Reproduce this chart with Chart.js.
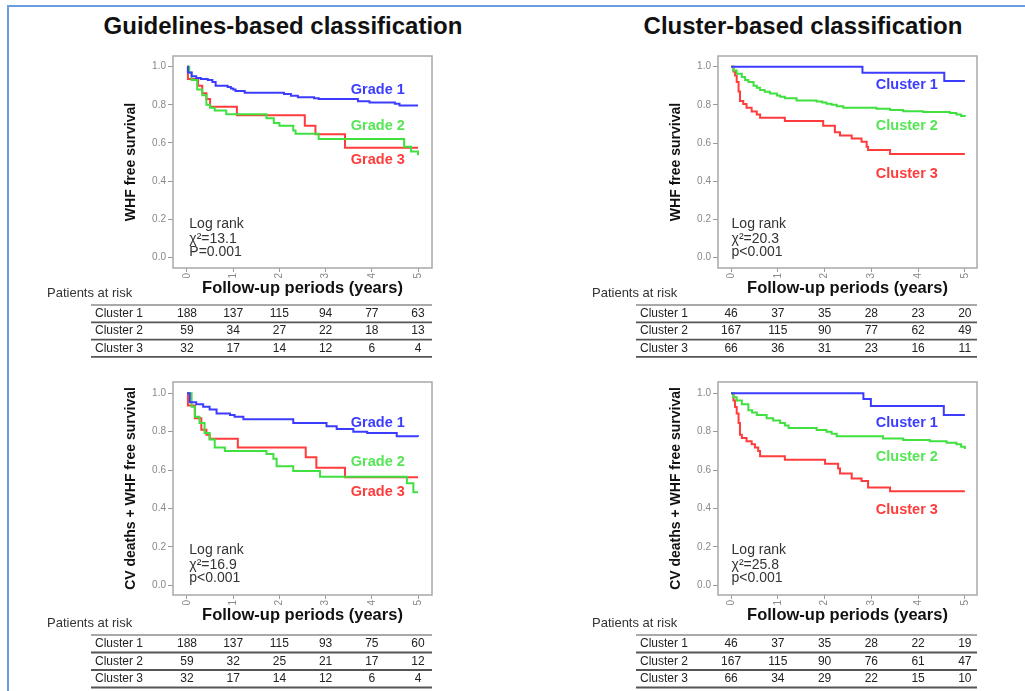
<!DOCTYPE html>
<html>
<head>
<meta charset="utf-8">
<script src="https://cdn.jsdelivr.net/npm/chart.js@4.4.1/dist/chart.umd.min.js"></script>
<style>
  body { margin: 0; background: #fff; font-family: Arial, "Liberation Sans", sans-serif; }
  #frame { position: absolute; left: 7px; top: 5px; width: 1040px; height: 720px; border: 2px solid #6b9be0; }
  .title { position: absolute; top: 13px; line-height: 26px; font-weight: bold; font-size: 24px; color: #111;
           transform: translateX(-50%); white-space: nowrap; }
  canvas { position: absolute; }
</style>
</head>
<body>
<div id="frame"></div>
<div class="title" style="left:283px">Guidelines-based classification</div>
<div class="title" style="left:803px">Cluster-based classification</div>
<canvas id="tl" width="394" height="312" style="left:40px;top:48px"></canvas>
<canvas id="tr" width="391" height="312" style="left:588px;top:48px"></canvas>
<canvas id="bl" width="394" height="317" style="left:40px;top:374px"></canvas>
<canvas id="br" width="391" height="317" style="left:588px;top:374px"></canvas>
<script>
const FONT = 'Arial, "Liberation Sans", sans-serif';
const YEARS = [0, 1, 2, 3, 4, 5];
const Y_TICKS = [0, 0.2, 0.4, 0.6, 0.8, 1.0];
const GRADES = ['Grade 1', 'Grade 2', 'Grade 3'];
const CLUSTERS = ['Cluster 1', 'Cluster 2', 'Cluster 3'];
const ROW_NAMES = ['Cluster 1', 'Cluster 2', 'Cluster 3'];
const COLORS = ['#3c3cff', '#3fe03f', '#ff3c3c'];
const LABEL_COLORS = ['#3c3cff', '#55e655', '#ff3c3c'];

// Kaplan-Meier curves, [years, survival]
const TL_G1 = [[0,1],[0.02,0.97],[0.1,0.95],[0.2,0.94],[0.3,0.935],[0.45,0.93],[0.55,0.92],[0.62,0.9],[0.88,0.893],[0.95,0.885],[1.0,0.88],[1.05,0.873],[1.25,0.863],[2.1,0.857],[2.25,0.848],[2.4,0.84],[2.75,0.835],[2.85,0.83],[3.7,0.818],[3.95,0.812],[4.5,0.805],[4.6,0.797],[5,0.797]];
const TL_G2 = [[0,1],[0.05,0.97],[0.1,0.93],[0.22,0.88],[0.33,0.85],[0.42,0.8],[0.5,0.785],[0.6,0.77],[0.85,0.75],[1.72,0.73],[1.88,0.705],[2.0,0.69],[2.3,0.665],[2.35,0.648],[2.85,0.62],[4.7,0.58],[4.85,0.555],[5,0.535]];
const TL_G3 = [[0,1],[0.02,0.935],[0.24,0.9],[0.33,0.86],[0.42,0.83],[0.5,0.79],[1.08,0.745],[2.55,0.69],[2.78,0.645],[3.42,0.575],[5,0.575]];

const TR_C1 = [[0,1],[2.81,0.968],[4.56,0.925],[5,0.925]];
const TR_C2 = [[0,1],[0.05,0.98],[0.12,0.963],[0.23,0.946],[0.3,0.93],[0.37,0.92],[0.48,0.9],[0.55,0.89],[0.62,0.878],[0.72,0.868],[0.83,0.86],[0.98,0.849],[1.05,0.842],[1.15,0.835],[1.4,0.823],[1.83,0.818],[1.95,0.812],[2.04,0.806],[2.15,0.8],[2.26,0.793],[2.4,0.785],[3.11,0.78],[3.4,0.773],[3.68,0.767],[4.11,0.762],[4.68,0.757],[4.82,0.749],[4.92,0.742],[5,0.737]];
const TR_C3 = [[0,1],[0.05,0.975],[0.085,0.954],[0.12,0.92],[0.16,0.87],[0.19,0.82],[0.26,0.805],[0.33,0.785],[0.44,0.765],[0.55,0.75],[0.62,0.733],[1.15,0.715],[1.97,0.69],[2.22,0.657],[2.33,0.64],[2.58,0.623],[2.79,0.606],[2.9,0.58],[2.93,0.564],[3.4,0.542],[5,0.542]];

const BL_G1 = [[0,1],[0.06,0.954],[0.2,0.943],[0.35,0.93],[0.49,0.916],[0.64,0.895],[0.93,0.887],[1.03,0.878],[1.22,0.865],[2.3,0.845],[3.02,0.828],[3.24,0.814],[3.6,0.8],[3.9,0.794],[4.54,0.777],[5,0.774]];
const BL_G2 = [[0,1],[0.1,0.93],[0.17,0.878],[0.27,0.845],[0.38,0.794],[0.49,0.76],[0.6,0.718],[0.82,0.7],[1.72,0.684],[1.87,0.66],[1.94,0.62],[2.3,0.595],[2.88,0.566],[4.76,0.532],[4.9,0.485],[5,0.485]];
const BL_G3 = [[0,1],[0.02,0.937],[0.17,0.87],[0.31,0.81],[0.42,0.785],[0.49,0.764],[1.1,0.718],[2.57,0.667],[2.8,0.612],[3.42,0.563],[5,0.563]];

const BR_C1 = [[0,1],[2.83,0.971],[2.99,0.934],[4.55,0.887],[5,0.887]];
const BR_C2 = [[0,1],[0.05,0.98],[0.12,0.963],[0.23,0.943],[0.37,0.912],[0.45,0.9],[0.55,0.887],[0.76,0.87],[0.9,0.858],[1.05,0.845],[1.15,0.832],[1.23,0.82],[1.83,0.809],[2.04,0.8],[2.15,0.79],[2.26,0.777],[3.25,0.765],[3.68,0.757],[4.25,0.75],[4.61,0.743],[4.82,0.735],[4.92,0.722],[5,0.71]];
const BR_C3 = [[0,1],[0.05,0.963],[0.085,0.929],[0.12,0.895],[0.16,0.845],[0.19,0.785],[0.23,0.768],[0.33,0.75],[0.44,0.735],[0.51,0.718],[0.58,0.7],[0.62,0.672],[1.15,0.654],[2.01,0.633],[2.29,0.608],[2.33,0.583],[2.58,0.557],[2.79,0.544],[2.93,0.51],[3.4,0.49],[5,0.49]];

// patients at risk at 0..5 years
const RISK_TL = [[188,137,115,94,77,63],[59,34,27,22,18,13],[32,17,14,12,6,4]];
const RISK_TR = [[46,37,35,28,23,20],[167,115,90,77,62,49],[66,36,31,23,16,11]];
const RISK_BL = [[188,137,115,93,75,60],[59,32,25,21,17,12],[32,17,14,12,6,4]];
const RISK_BR = [[46,37,35,28,22,19],[167,115,90,76,61,47],[66,34,29,22,15,10]];

const CHI = ['13.1', '20.3', '16.9', '25.8'];
const PVAL = ['P=0.001', 'p<0.001', 'p<0.001', 'p<0.001'];

function extras(p) {
  return {
    id: 'extras',
    afterDraw(chart) {
      const { ctx, chartArea: a, scales: { x, y } } = chart;
      ctx.save();
      ctx.strokeStyle = '#a8a8a8';
      ctx.lineWidth = 1.5;
      ctx.strokeRect(a.left, a.top, a.width, a.height);

      ctx.font = 'bold 14.5px ' + FONT;
      ctx.textAlign = 'center';
      ctx.textBaseline = 'middle';
      p.names.forEach((n, i) => {
        ctx.fillStyle = LABEL_COLORS[i];
        ctx.fillText(n, x.getPixelForValue(p.labelX), y.getPixelForValue(p.labelY[i]));
      });

      ctx.font = '14px ' + FONT;
      ctx.fillStyle = '#333';
      ctx.textAlign = 'left';
      ['Log rank', '\u03c7\u00b2=' + CHI[p.k], PVAL[p.k]].forEach((t, i) => {
        ctx.fillText(t, x.getPixelForValue(p.statX), y.getPixelForValue(p.statY[i]));
      });

      // risk table
      const t0 = a.bottom + p.tableTop;
      ctx.font = '13px ' + FONT;
      ctx.fillStyle = '#333';
      ctx.fillText('Patients at risk', a.left - 126, t0 - 12);
      ctx.strokeStyle = '#555';
      for (let r = 0; r <= 3; r++) {
        const yy = t0 + r * p.rowH;
        ctx.lineWidth = r === 0 ? 1.2 : 1.8;
        ctx.beginPath();
        ctx.moveTo(a.left - 82, yy);
        ctx.lineTo(a.right, yy);
        ctx.stroke();
      }
      ctx.fillStyle = '#222';
      ctx.font = '12px ' + FONT;
      ROW_NAMES.forEach((n, r) => {
        const yy = t0 + (r + 0.5) * p.rowH;
        ctx.textAlign = 'left';
        ctx.fillText(n, a.left - 78, yy);
        ctx.textAlign = 'center';
        p.risk[r].forEach((v, c) => ctx.fillText(String(v), x.getPixelForValue(YEARS[c]), yy));
      });
      ctx.restore();
    }
  };
}

function panel(id, p) {
  new Chart(document.getElementById(id), {
    type: 'line',
    data: {
      datasets: p.curves.map((c, i) => ({
        data: c.map(([t, s]) => ({ x: t, y: s })),
        borderColor: COLORS[i],
        borderWidth: 2,
        pointRadius: 0,
        stepped: true,
        fill: false
      }))
    },
    options: {
      responsive: false,
      animation: false,
      events: [],
      layout: { padding: { left: p.padLeft, top: 2, right: 2, bottom: p.padBottom } },
      plugins: { legend: { display: false }, tooltip: { enabled: false } },
      scales: {
        x: {
          type: 'linear',
          min: p.xMin, max: p.xMax,
          afterBuildTicks: s => { s.ticks = YEARS.map(v => ({ value: v })); },
          afterFit: s => { s.height = 32; },
          grid: { drawOnChartArea: false, tickLength: 4, color: '#999' },
          border: { display: false },
          ticks: { font: { size: 10, family: FONT }, color: '#888', padding: 1, minRotation: 90, maxRotation: 90,
                   callback: v => String(v) },
          title: { display: true, text: 'Follow-up periods (years)', color: '#111',
                   font: { size: 16.5, weight: 'bold', family: FONT }, padding: { top: 0, bottom: 2 } }
        },
        y: {
          min: p.yMin, max: p.yMax,
          afterBuildTicks: s => { s.ticks = Y_TICKS.map(v => ({ value: v })); },
          afterFit: s => { s.width = 54; },
          grid: { drawOnChartArea: false, tickLength: 5, color: '#999' },
          border: { display: false },
          ticks: { font: { size: 10, family: FONT }, color: '#888', padding: 2, callback: v => v.toFixed(1) },
          title: { display: true, text: p.yTitle, color: '#111',
                   font: { size: 14, weight: 'bold', family: FONT }, padding: { top: 4, bottom: 0 } }
        }
      }
    },
    plugins: [extras(p)]
  });
}

panel('tl', {
  k: 0, curves: [TL_G1, TL_G2, TL_G3], names: GRADES, risk: RISK_TL,
  yTitle: 'WHF free survival', padLeft: 79, padBottom: 60,
  xMin: -0.303, xMax: 5.303, yMin: -0.056, yMax: 1.056,
  labelX: 4.13, labelY: [0.877, 0.689, 0.51], statX: 0.05, statY: [0.173, 0.097, 0.026],
  tableTop: 37, rowH: 17.3
});
panel('tr', {
  k: 1, curves: [TR_C1, TR_C2, TR_C3], names: CLUSTERS, risk: RISK_TR,
  yTitle: 'WHF free survival', padLeft: 76, padBottom: 60,
  xMin: -0.28, xMax: 5.26, yMin: -0.055, yMax: 1.056,
  labelX: 3.76, labelY: [0.903, 0.689, 0.435], statX: 0.01, statY: [0.173, 0.097, 0.026],
  tableTop: 37, rowH: 17.3
});
panel('bl', {
  k: 2, curves: [BL_G1, BL_G2, BL_G3], names: GRADES, risk: RISK_BL,
  yTitle: 'CV deaths + WHF free survival', padLeft: 79, padBottom: 64,
  xMin: -0.303, xMax: 5.303, yMin: -0.05, yMax: 1.059,
  labelX: 4.13, labelY: [0.846, 0.644, 0.487], statX: 0.05, statY: [0.183, 0.107, 0.04],
  tableTop: 40, rowH: 17.5
});
panel('br', {
  k: 3, curves: [BR_C1, BR_C2, BR_C3], names: CLUSTERS, risk: RISK_BR,
  yTitle: 'CV deaths + WHF free survival', padLeft: 76, padBottom: 64,
  xMin: -0.28, xMax: 5.26, yMin: -0.05, yMax: 1.059,
  labelX: 3.76, labelY: [0.846, 0.669, 0.395], statX: 0.01, statY: [0.183, 0.107, 0.04],
  tableTop: 40, rowH: 17.5
});
</script>
</body>
</html>
